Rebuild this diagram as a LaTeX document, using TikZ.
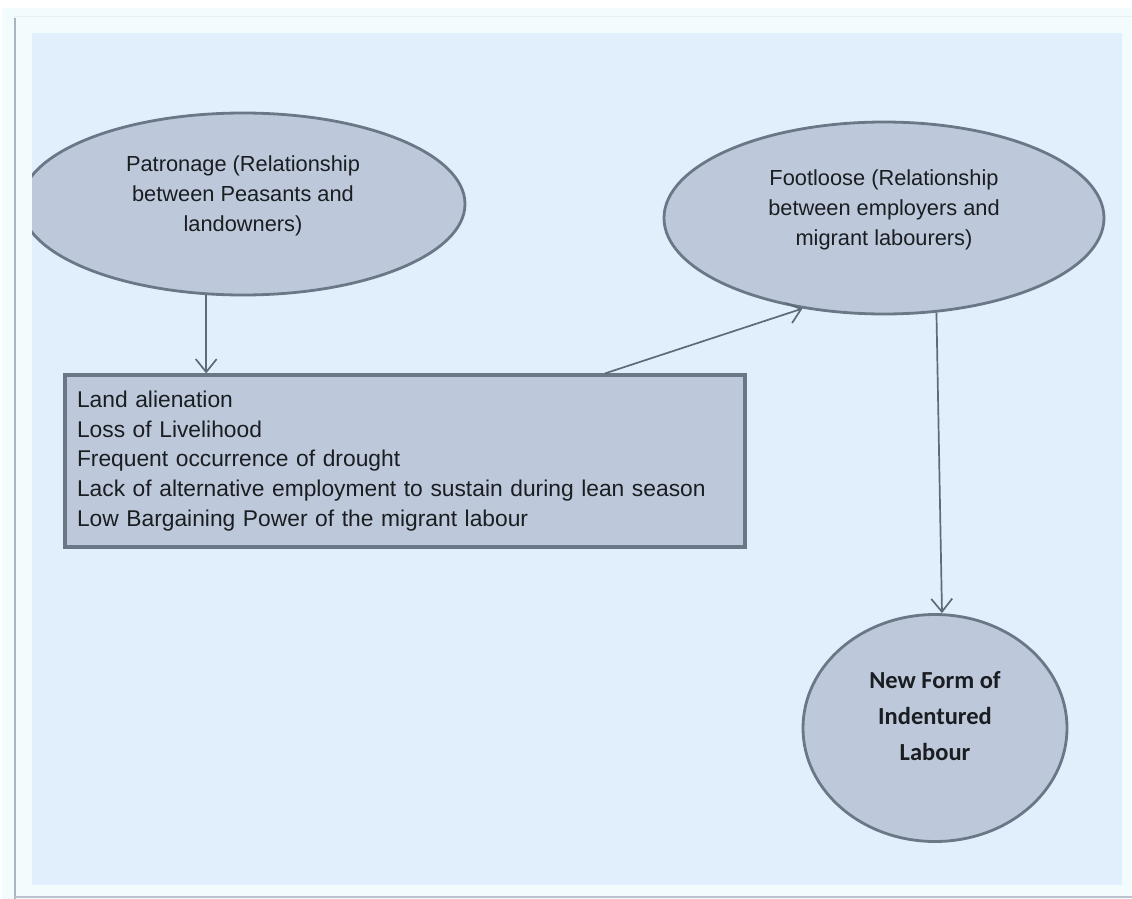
\documentclass[tikz,border=0pt]{standalone}
\usepackage{fontspec}
\setmainfont{Liberation Sans}
\newfontfamily\carlitofont{Carlito}
\usetikzlibrary{arrows.meta,shapes.geometric}

\definecolor{framebg}{HTML}{F3FCFD}
\definecolor{framerule}{HTML}{AAB4C2}
\definecolor{panelbg}{HTML}{E1EEFB}
\definecolor{shapefill}{HTML}{BDC9DA}
\definecolor{shapeline}{HTML}{6A7786}
\definecolor{linkgrey}{HTML}{5F6A77}
\definecolor{inkgrey}{HTML}{1A1D21}

\tikzset{
  bubble/.style={ellipse, draw=shapeline, fill=shapefill, line width=2.8pt, inner sep=0pt},
  bubbletext/.style={align=center, text=inkgrey, font=\fontsize{21.8}{30}\selectfont},
  causebox/.style={rectangle, draw=shapeline, fill=shapefill, line width=3.2pt,
    minimum width=680pt, minimum height=172pt, inner xsep=12pt, text width=656pt,
    align=left, text=inkgrey, font=\fontsize{22.8}{29.8}\selectfont},
  link/.style={draw=linkgrey, line width=1.7pt, -{Straight Barb[length=13pt,width=21pt]}}
}

\begin{document}
\begin{tikzpicture}[x=1pt,y=-1pt]
  \useasboundingbox (0,0) rectangle (1132,899);
  % frame and panel
  \fill[white] (0,0) rectangle (1132,899);
  \fill[framebg] (2,8) rectangle (1132,899);
  \draw[framebg!90!gray, line width=1pt] (14,17) -- (1132,17);
  \draw[framerule, line width=2pt] (15,18) -- (15,899);
  \draw[framerule!80, line width=2pt] (15,897) -- (1132,897);
  \fill[panelbg] (32,33) rectangle (1122,885);

  \begin{scope}
    \clip (32,33) rectangle (1122,885);
    \node[bubble, minimum width=444pt, minimum height=182pt,
      label={[bubbletext, yshift=8pt]center:Patronage (Relationship\\between Peasants and\\landowners)}]
      (patron) at (243,204) {};
  \end{scope}

  \node[bubble, minimum width=440pt, minimum height=192pt,
    label={[bubbletext, yshift=8pt]center:Footloose (Relationship\\between employers and\\migrant labourers)}]
    (footloose) at (884,218) {};

  \node[causebox] (cause) at (405,461) {Land alienation\\
    Loss of Livelihood\\
    Frequent occurrence of drought\\
    Lack of alternative employment to sustain during lean season\\
    Low Bargaining Power of the migrant labour};

  \node[bubble, minimum width=264pt, minimum height=227pt,
    label={[align=center, text=inkgrey, yshift=12pt,
      font=\carlitofont\bfseries\fontsize{24.5}{36}\selectfont]center:New Form of\\Indentured\\Labour}]
    (indentured) at (935,728) {};

  % connectors
  \draw[link] (patron.248) -- (patron.248 |- cause.north);
  \draw[link] ([xshift=200pt]cause.north) -- (footloose.228.7);
  \draw[link] (footloose.299.7) -- ([xshift=7pt]indentured.north);
\end{tikzpicture}
\end{document}
